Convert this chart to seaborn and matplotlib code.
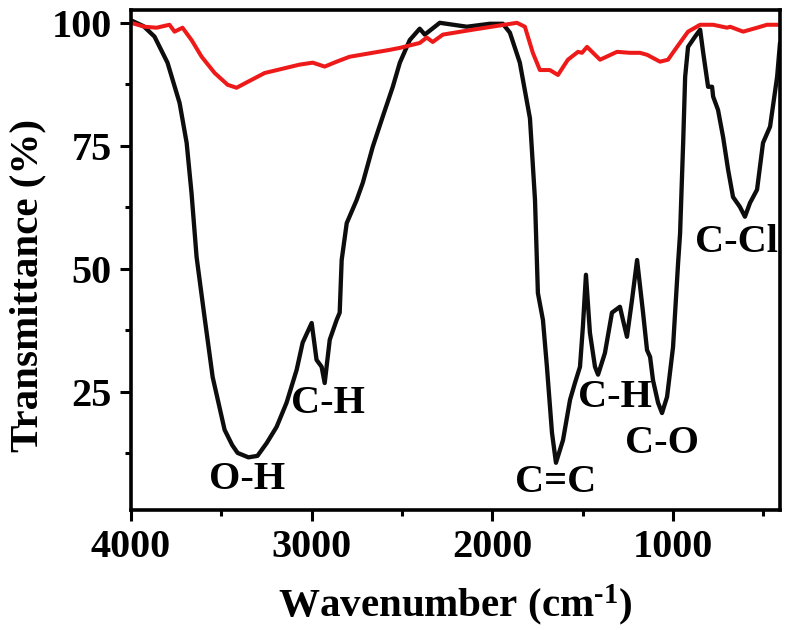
import numpy as np
import pandas as pd
import matplotlib
matplotlib.use("Agg")
import matplotlib.pyplot as plt
from matplotlib.ticker import MultipleLocator, FixedLocator
import seaborn as sns

# ---- data ----
black_wn = [4000, 3930, 3870, 3798, 3731, 3692, 3665, 3637, 3593, 3548, 3482, 3440, 3410, 3350, 3300,
            3249, 3194, 3139, 3083, 3050, 3000, 2973, 2945, 2928, 2900, 2862, 2845, 2834,
            2806, 2751, 2717, 2662, 2607, 2551, 2512, 2457, 2402, 2374, 2291, 2141, 2014,
            1942, 1903, 1848, 1792, 1764, 1748, 1720, 1698, 1670, 1648, 1609, 1570, 1543,
            1515, 1499, 1482, 1460, 1432, 1415, 1377, 1338, 1294, 1277, 1255, 1227, 1199,
            1166, 1144, 1127, 1111, 1083, 1061, 1033, 1000, 972, 961, 944, 933, 917, 878,
            850, 833, 806, 784, 778, 751, 723, 695, 668, 630, 602, 574, 535, 502, 463, 424, 408]
black_t = [100.5, 99.3, 97.2, 91.9, 83.7, 75.6, 65.4, 52.4, 40.2, 28.0, 17.3, 14.2, 12.6, 11.7, 12.0,
           14.6, 17.9, 22.8, 29.5, 35.0, 39.0, 31.5, 30.1, 26.8, 35.6, 39.6, 41.1, 51.8,
           59.3, 64.0, 67.5, 74.8, 80.9, 87.0, 91.9, 96.5, 98.8, 97.6, 100.0, 99.2, 99.8,
           99.8, 98.0, 91.9, 80.6, 64.0, 45.1, 39.6, 30.1, 16.7, 10.6, 15.2, 23.4, 26.8,
           30.1, 38.2, 48.8, 37.0, 30.1, 28.5, 32.9, 41.1, 42.3, 39.6, 36.2, 43.7, 51.8,
           41.1, 33.5, 32.1, 27.4, 22.8, 20.7, 24.0, 34.1, 51.2, 57.2, 75.6, 89.0, 95.1, 97.2,
           98.6, 93.9, 87.0, 87.0, 85.0, 82.3, 76.8, 70.1, 64.6, 62.6, 60.6, 63.4, 66.1, 75.6,
           78.9, 89.0, 95.9]

red_wn = [4000, 3925, 3859, 3787, 3759, 3715, 3665, 3609, 3537, 3465, 3416, 3354, 3260,
          3067, 2994, 2928, 2862, 2790, 2568, 2512, 2402, 2363, 2330, 2274, 2108, 1864,
          1820, 1776, 1737, 1682, 1637, 1582, 1526, 1504, 1476, 1404, 1310, 1238, 1183,
          1144, 1072, 1028, 978, 917, 850, 778, 701, 684, 612, 535, 480, 408]
red_t = [100.0, 99.2, 99.0, 99.6, 98.2, 99.0, 96.5, 93.1, 89.8, 87.4, 86.8, 88.0, 89.8,
         91.5, 91.9, 91.1, 92.1, 93.1, 94.5, 94.9, 95.9, 97.0, 96.1, 97.6, 98.6, 100.0,
         99.2, 93.9, 90.4, 90.4, 89.4, 92.5, 94.1, 93.9, 95.1, 92.5, 94.1, 93.9, 93.9,
         93.5, 92.1, 92.5, 95.1, 98.2, 99.6, 99.6, 99.0, 99.2, 98.2, 99.0, 99.6, 99.6]

labels = ["O-H", "C-H", "C=C", "C-H", "C-O", "C-Cl"]
label_wn = [3355, 2911, 1648, 1322, 1061, 646]
label_t = [7.1, 22.6, 6.5, 23.8, 14.6, 55.3]

x_ticks = [4000, 3000, 2000, 1000]
y_ticks = [25, 50, 75, 100]

# ---- style ----
sns.set_theme(style="ticks")
plt.rcParams["font.family"] = ["Liberation Serif", "DejaVu Serif"]
plt.rcParams["font.weight"] = "bold"
plt.rcParams["text.color"] = "black"
plt.rcParams["axes.labelcolor"] = "black"
plt.rcParams["xtick.color"] = "black"
plt.rcParams["ytick.color"] = "black"
plt.rcParams["mathtext.fontset"] = "custom"
plt.rcParams["mathtext.rm"] = "Liberation Serif:bold"
plt.rcParams["mathtext.it"] = "Liberation Serif:bold"
plt.rcParams["mathtext.bf"] = "Liberation Serif:bold"
plt.rcParams["mathtext.default"] = "rm"

fig = plt.figure(figsize=(7.89, 6.30), dpi=100)
ax = fig.add_axes([131 / 789, 1 - 510 / 630, (780 - 131) / 789, (510 - 10) / 630])

df_b = pd.DataFrame({"wn": black_wn, "T": black_t})
df_r = pd.DataFrame({"wn": red_wn, "T": red_t})

sns.lineplot(data=df_b, x="wn", y="T", ax=ax, color="#0d0d0d", linewidth=3.1,
             estimator=None, sort=True, solid_joinstyle="round", solid_capstyle="round")
sns.lineplot(data=df_r, x="wn", y="T", ax=ax, color="#ee1a1a", linewidth=2.9,
             estimator=None, sort=True, solid_joinstyle="round", solid_capstyle="round")

ax.set_xlim(4000, 408)
ax.set_ylim(1.0, 102.6)

ax.xaxis.set_major_locator(FixedLocator(x_ticks))
ax.xaxis.set_minor_locator(MultipleLocator(500))
ax.yaxis.set_major_locator(FixedLocator(y_ticks))
ax.yaxis.set_minor_locator(MultipleLocator(12.5))

ax.tick_params(axis="both", which="major", direction="out", length=8, width=2.2,
               labelsize=29, pad=6, color="black", labelcolor="black")
ax.tick_params(axis="both", which="minor", direction="out", length=4, width=2.2,
               color="black")
for lab in ax.get_xticklabels() + ax.get_yticklabels():
    lab.set_fontweight("bold")

for s in ax.spines.values():
    s.set_linewidth(2.6)
    s.set_color("black")

ax.set_xlabel("Wavenumber (cm$^{\\text{-1}}$)", fontsize=29.5, fontweight="bold",
              labelpad=12, color="black")
ax.set_ylabel("Transmittance (%)", fontsize=29.5, fontweight="bold", color="black")
ax.yaxis.set_label_coords((46 - 131) / 649, (510 - 285) / 500)

for txt, xw, yt in zip(labels, label_wn, label_t):
    ax.text(xw, yt, txt, fontsize=29, fontweight="bold", ha="center", va="center",
            color="black")

fig.savefig("out.png", dpi=100)
